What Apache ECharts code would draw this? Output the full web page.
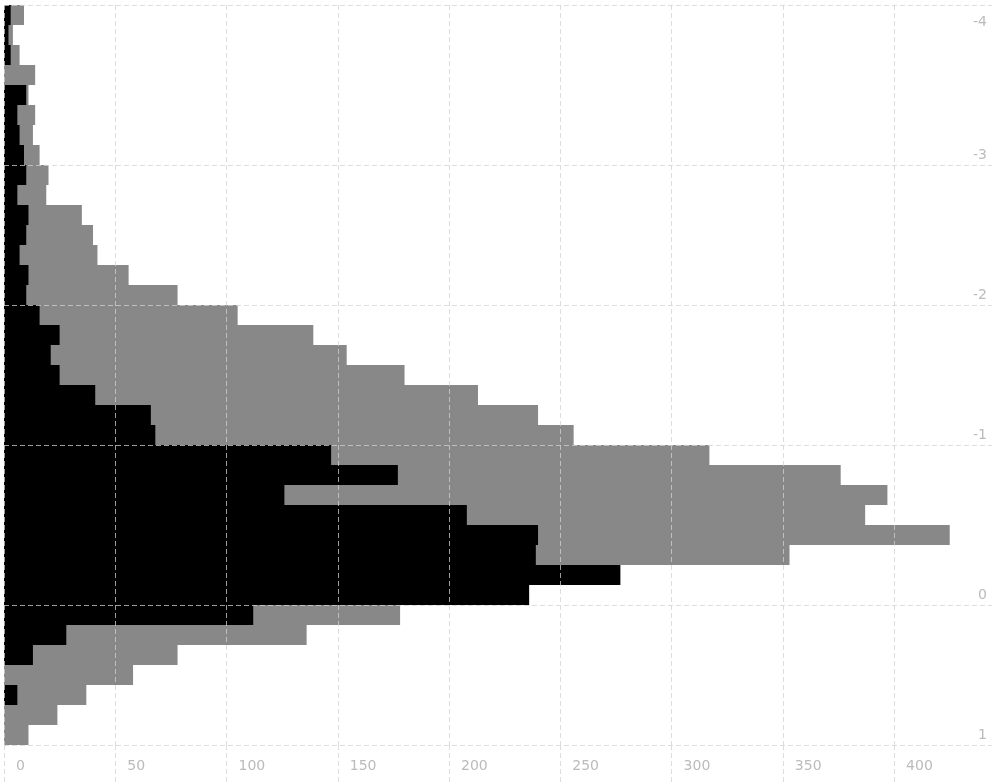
<!DOCTYPE html>
<html>
<head>
<meta charset="utf-8">
<script src="https://cdn.jsdelivr.net/npm/echarts@6/dist/echarts.min.js"></script>
<style>
  html, body { margin: 0; padding: 0; background: #fff; }
  #chart { width: 992px; height: 782px; }
</style>
</head>
<body>
<div id="chart"></div>
<script>
// Bin counts, listed from the bottom bin (value 1) up to the top bin (value -4)
const blackCounts = [0, 0, 6, 0, 13, 28, 112, 236, 277, 239, 240, 208, 126, 177, 147, 68, 66, 41, 25, 21, 25, 16, 10, 11, 7, 10, 11, 6, 10, 9, 7, 6, 10, 0, 3, 2, 3];
const grayCounts = [11, 24, 37, 58, 78, 136, 178, 230, 270, 353, 425, 387, 397, 376, 317, 256, 240, 213, 180, 154, 139, 105, 78, 56, 42, 40, 35, 19, 20, 16, 13, 14, 11, 14, 7, 4, 9];

// Bin labels on the value axis (only a few bins carry one)
const binTickIndex = [0, 7, 15, 22, 29, 36];
const binTickText = ['1', '0', '-1', '-2', '-3', '-4'];
// Bins that get a horizontal guide line at their lower edge
const binLineIndex = [0, 7, 15, 22, 29];

// Count axis
const countMax = 444;
const countStep = 50;

const binCategories = blackCounts.map((_, i) => String(i));

const gridLine = {
  color: 'rgba(210,210,210,0.75)',
  width: 1,
  type: [5, 3]
};
const labelFont = {
  color: '#bbbbbb',
  fontFamily: 'DejaVu Sans',
  fontSize: 14
};

const chart = echarts.init(document.getElementById('chart'), null, { renderer: 'canvas' });

chart.setOption({
  animation: false,
  backgroundColor: '#ffffff',
  grid: {
    left: 4,
    right: 0,
    top: 5,
    bottom: 37,
    containLabel: false,
    outerBoundsMode: 'none'
  },
  xAxis: {
    type: 'value',
    min: 0,
    max: countMax,
    interval: countStep,
    z: 5,
    axisLine: { show: false },
    axisTick: {
      show: true,
      length: 40,
      lineStyle: gridLine
    },
    splitLine: { show: true, lineStyle: gridLine },
    axisLabel: Object.assign({}, labelFont, {
      margin: 14,
      align: 'left',
      padding: [0, 0, 0, 12],
      showMaxLabel: false,
      formatter: v => (v % countStep === 0 ? String(v) : '')
    })
  },
  yAxis: {
    type: 'category',
    position: 'right',
    z: 5,
    data: binCategories.map((c, i) =>
      i === binTickIndex[binTickIndex.length - 1]
        ? { value: c, textStyle: { verticalAlign: 'top' } }
        : c
    ),
    axisLine: { show: false },
    axisTick: { show: false },
    splitLine: {
      show: true,
      interval: idx => binLineIndex.indexOf(idx) >= 0,
      lineStyle: gridLine
    },
    axisLabel: Object.assign({}, labelFont, {
      inside: true,
      margin: 5,
      interval: idx => binTickIndex.indexOf(idx) >= 0,
      formatter: (v, idx) => {
        const k = binTickIndex.indexOf(idx);
        return k >= 0 ? binTickText[k] : '';
      }
    })
  },
  series: [
    {
      type: 'bar',
      data: grayCounts,
      barCategoryGap: 0,
      barGap: '-100%',
      itemStyle: { color: '#888888' },
      silent: true
    },
    {
      type: 'bar',
      data: blackCounts,
      barCategoryGap: 0,
      barGap: '-100%',
      itemStyle: { color: '#000000' },
      silent: true
    }
  ]
});
</script>
</body>
</html>
